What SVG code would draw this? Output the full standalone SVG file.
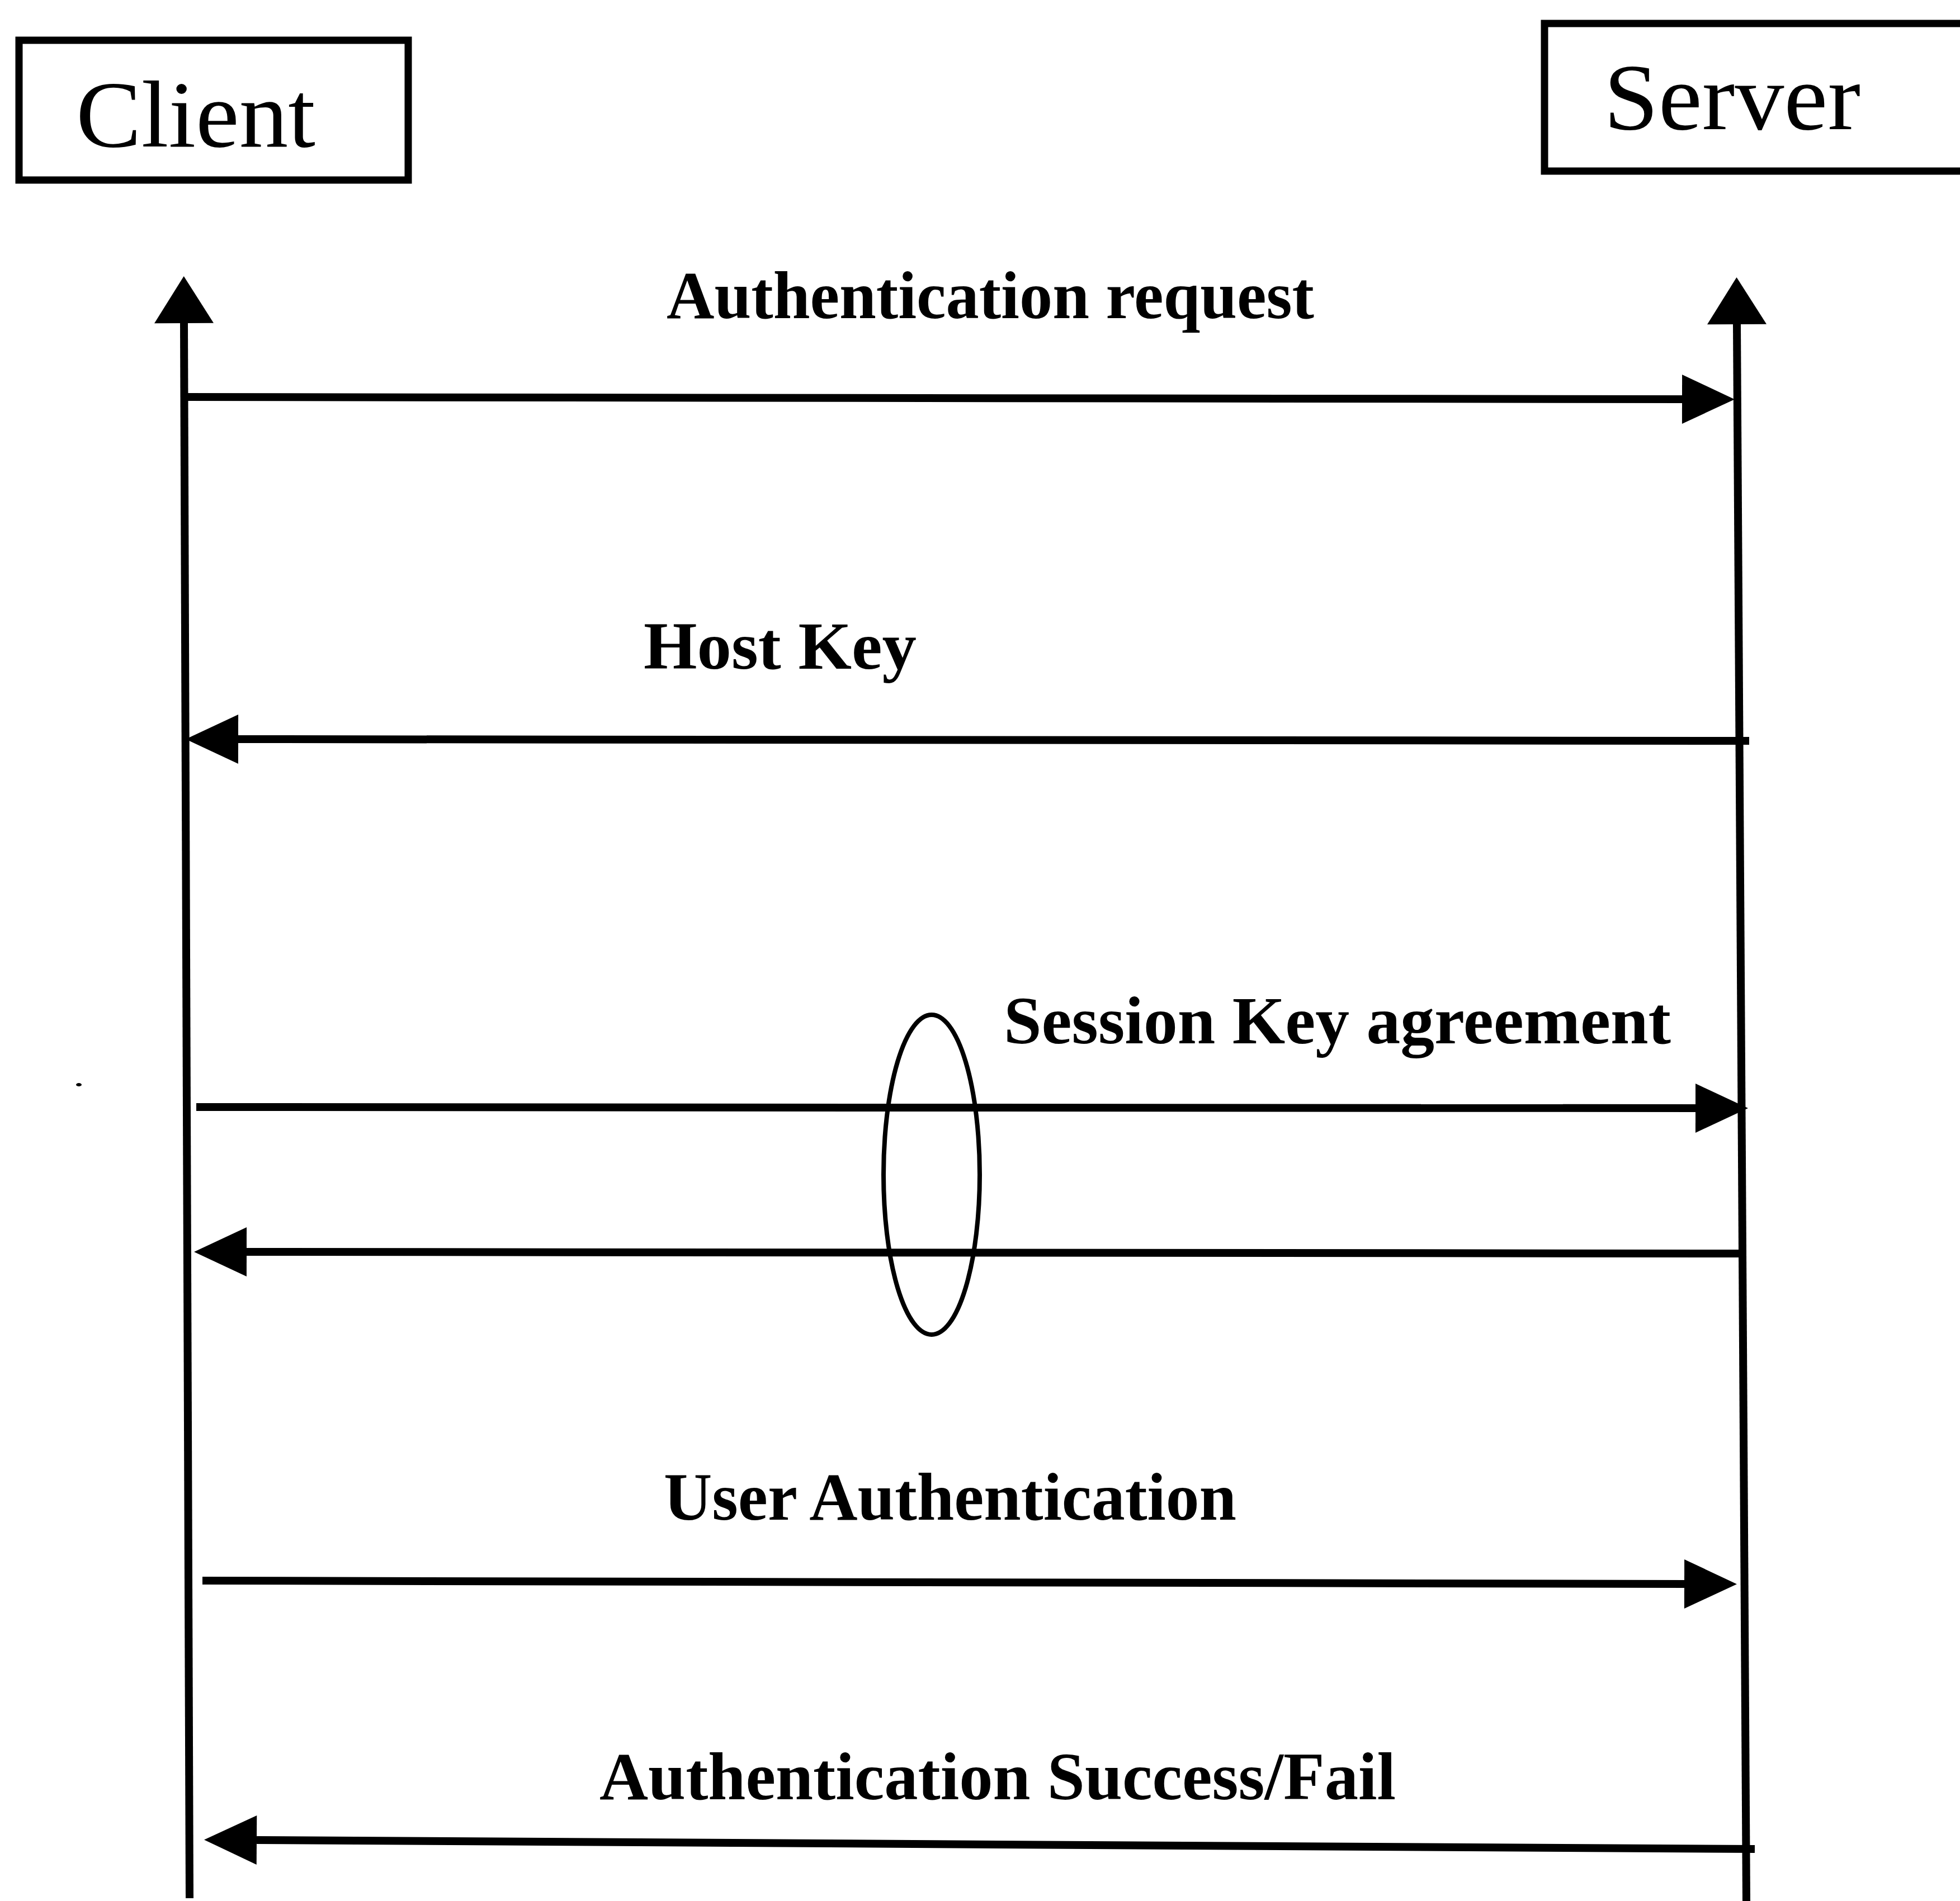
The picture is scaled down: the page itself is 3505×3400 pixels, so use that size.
<svg xmlns="http://www.w3.org/2000/svg" width="3505" height="3400" viewBox="0 0 3505 3400">
<style>
.box{fill:none;stroke:#000;stroke-width:13}
.title{font-family:"Liberation Serif","Times New Roman",serif;font-size:170px;fill:#000}
.lbl{font-family:"Liberation Serif","Times New Roman",serif;font-size:120px;font-weight:bold;fill:#000}
.life{fill:none;stroke:#000;stroke-width:14}
.msg{fill:none;stroke:#000;stroke-width:14}
</style>
<defs>
<marker id="ah" markerUnits="userSpaceOnUse" markerWidth="96" markerHeight="90" refX="0" refY="45" orient="auto" overflow="visible">
<path d="M0,1 L94,45 L0,89 Z" fill="#000"/>
</marker>
<marker id="av" markerUnits="userSpaceOnUse" markerWidth="86" markerHeight="106" refX="0" refY="53" orient="auto" overflow="visible">
<path d="M0,0 L84,53 L0,106 Z" fill="#000"/>
</marker>
</defs>
<rect width="3505" height="3400" fill="#fff"/>
<g id="client">
<rect class="box" x="34" y="72" width="696" height="250"/>
<text class="title" x="136" y="262" textLength="428" lengthAdjust="spacingAndGlyphs">Client</text>
</g>
<g id="server">
<rect class="box" x="2762" y="42" width="900" height="264"/>
<text class="title" x="2868" y="231" textLength="459" lengthAdjust="spacingAndGlyphs">Server</text>
</g>
<g id="connectors">
<g id="client-lifeline"><path class="life" d="M339,3395 L329,578" marker-end="url(#av)"/></g>
<g id="server-lifeline"><path class="life" d="M3123,3400 L3106,580" marker-end="url(#av)"/></g>
<g id="msg-auth-request">
<path class="msg" d="M331,710 L3008,714" marker-end="url(#ah)"/>
<text class="lbl" x="1192" y="569" textLength="1158" lengthAdjust="spacingAndGlyphs">Authentication request</text>
</g>
<g id="msg-host-key">
<path class="msg" d="M3128,1325 L426,1322" marker-end="url(#ah)"/>
<text class="lbl" x="1151" y="1196" textLength="488" lengthAdjust="spacingAndGlyphs">Host Key</text>
</g>
<g id="msg-session-key-1">
<path class="msg" d="M351,1980 L3032,1982" marker-end="url(#ah)"/>
<text class="lbl" x="1795" y="1866" textLength="1193" lengthAdjust="spacingAndGlyphs">Session Key agreement</text>
</g>
<g id="msg-session-key-2">
<path class="msg" d="M3114,2242 L441,2239" marker-end="url(#ah)"/>
</g>
<g id="msg-user-auth">
<path class="msg" d="M362,2827 L3012,2833" marker-end="url(#ah)"/>
<text class="lbl" x="1187" y="2718" textLength="1024" lengthAdjust="spacingAndGlyphs">User Authentication</text>
</g>
<g id="msg-auth-result">
<path class="msg" d="M3138,3307 L459,3291" marker-end="url(#ah)"/>
<text class="lbl" x="1072" y="3218" textLength="1424" lengthAdjust="spacingAndGlyphs">Authentication Success/Fail</text>
</g>
</g>
<g id="agreement-bracket">
<ellipse cx="1666" cy="2101" rx="86" ry="286" fill="none" stroke="#000" stroke-width="8"/>
</g>
<ellipse cx="141" cy="1940" rx="5" ry="3" fill="#000"/>
</svg>
